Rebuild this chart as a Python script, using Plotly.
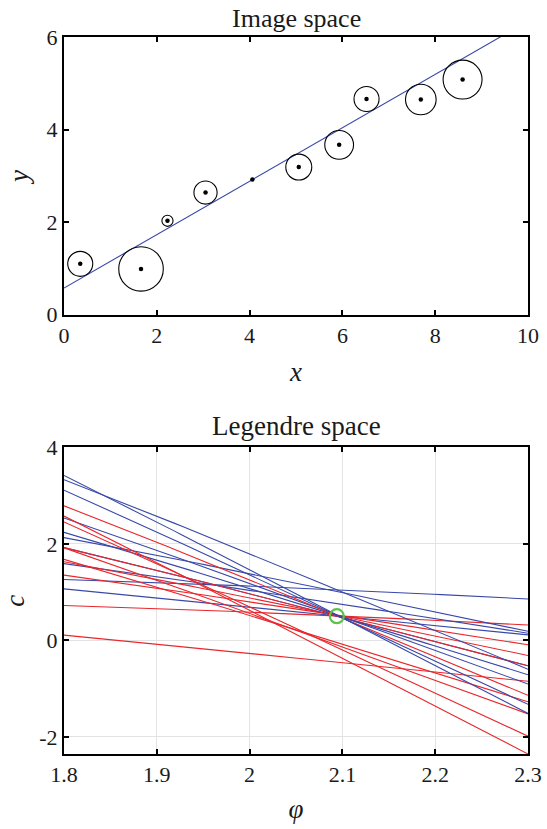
import numpy as np
import plotly.graph_objects as go
from plotly.subplots import make_subplots

# ---- data ----
pt_x = [0.35, 1.66, 2.23, 3.05, 4.06, 5.06, 5.93, 6.52, 7.69, 8.59]
pt_y = [1.10, 0.99, 2.03, 2.64, 2.92, 3.19, 3.67, 4.66, 4.65, 5.08]
pt_r = [0.27, 0.48, 0.12, 0.25, 0.00, 0.28, 0.31, 0.27, 0.33, 0.42]

fit_phi = 2.094   # Legendre-space estimate (green circle)
fit_c = 0.50

phi_range = [1.8, 2.3]
x_range = [0, 10]
y_range = [0, 6]

top_xticks = [0, 2, 4, 6, 8, 10]
top_yticks = [0, 2, 4, 6]
bot_xticks = [1.8, 1.9, 2.0, 2.1, 2.2, 2.3]
bot_xticktext = ["1.8", "1.9", "2", "2.1", "2.2", "2.3"]
bot_yticks = [-2, 0, 2, 4]
bot_yticktext = ["-2", "0", "2", "4"]

BLUE = "#3848a8"
RED = "#e8262b"
GREEN = "#5cc24a"
FONT = "Liberation Serif"
TXT = "#1a1a1a"

fig = make_subplots(rows=2, cols=1, vertical_spacing=0.0)

# --- top: image space ---
xs_fit = np.array(x_range, dtype=float)
ys_fit = (fit_c - xs_fit * np.cos(fit_phi)) / np.sin(fit_phi)
fig.add_trace(go.Scatter(x=xs_fit, y=ys_fit, mode="lines",
                         line=dict(color=BLUE, width=1.1), showlegend=False), row=1, col=1)
fig.add_trace(go.Scatter(x=pt_x, y=pt_y, mode="markers",
                         marker=dict(color="black", size=4.5), showlegend=False), row=1, col=1)
for x, y, r in zip(pt_x, pt_y, pt_r):
    if r > 0:
        fig.add_shape(type="circle", xref="x", yref="y", x0=x - r, x1=x + r, y0=y - r, y1=y + r,
                      line=dict(color="black", width=1.1))

# --- bottom: Legendre space ---
phi = np.linspace(phi_range[0], phi_range[1], 60)
for x, y, r in zip(pt_x, pt_y, pt_r):
    base = x * np.cos(phi) + y * np.sin(phi)
    fig.add_trace(go.Scatter(x=phi, y=base + r, mode="lines",
                             line=dict(color=BLUE, width=1.1), showlegend=False), row=2, col=1)
    fig.add_trace(go.Scatter(x=phi, y=base - r, mode="lines",
                             line=dict(color=RED, width=1.1), showlegend=False), row=2, col=1)
fig.add_trace(go.Scatter(x=[fit_phi], y=[fit_c], mode="markers",
                         marker=dict(symbol="circle-open", color=GREEN, size=14, line=dict(width=2.2)),
                         showlegend=False), row=2, col=1)

axis_common = dict(showline=True, linecolor="black", linewidth=2, mirror="allticks",
                   ticks="inside", ticklen=5, tickwidth=1.5, tickcolor="black",
                   tickfont=dict(family=FONT, size=22, color=TXT), zeroline=False, automargin=False)

lab = dict(family=FONT, size=27, color=TXT)
fig.update_xaxes(range=x_range, tickvals=top_xticks, showgrid=False, domain=[0, 1],
                 title=dict(text="<i>x</i>", font=lab, standoff=15),
                 **axis_common, row=1, col=1)
fig.update_yaxes(range=y_range, tickvals=top_yticks, showgrid=False, domain=[0.6126, 1],
                 title=dict(text="<i>y</i>", font=lab, standoff=10),
                 **axis_common, row=1, col=1)

ymin = min(min(np.array(pt_x) * np.cos(p) + np.array(pt_y) * np.sin(p) - np.array(pt_r)) for p in phi)
fig.update_xaxes(range=phi_range, tickvals=bot_xticks, ticktext=bot_xticktext, showgrid=True,
                 gridcolor="#e3e3e3", gridwidth=1, domain=[0, 1],
                 title=dict(text="<i>φ</i>", font=lab, standoff=13),
                 **axis_common, row=2, col=1)
fig.update_yaxes(range=[ymin, 4], tickvals=bot_yticks, ticktext=bot_yticktext, showgrid=True,
                 gridcolor="#e3e3e3", gridwidth=1, domain=[0, 0.4278],
                 title=dict(text="<i>c</i>", font=lab, standoff=14),
                 **axis_common, row=2, col=1)

fig.add_annotation(text="Image space", xref="paper", yref="paper", x=0.5, y=1.0, yshift=2,
                   xanchor="center", yanchor="bottom", showarrow=False,
                   font=dict(family=FONT, size=26, color=TXT))
fig.add_annotation(text="Legendre space", xref="paper", yref="paper", x=0.5, y=0.4278, yshift=4,
                   xanchor="center", yanchor="bottom", showarrow=False,
                   font=dict(family=FONT, size=27, color=TXT))

fig.update_layout(width=547, height=829, margin=dict(l=64, r=19, t=37, b=75, autoexpand=False),
                  font=dict(family=FONT), plot_bgcolor="white", paper_bgcolor="white")

fig.write_html("out.html")
